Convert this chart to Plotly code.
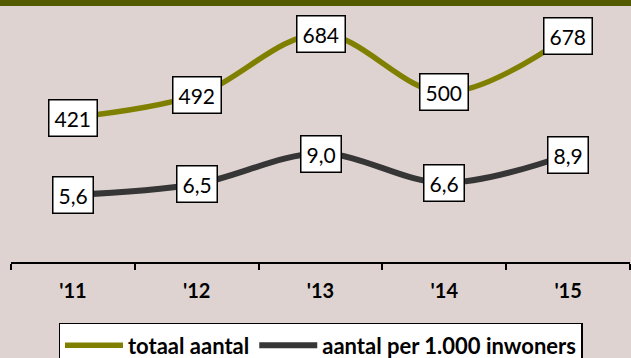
import plotly.graph_objects as go

years = ["'11", "'12", "'13", "'14", "'15"]
totaal = [421, 492, 684, 500, 678]
per_1000 = [5.6, 6.5, 9.0, 6.6, 8.9]
series_names = ["totaal aantal", "aantal per 1.000 inwoners"]

GREEN = "#808000"
DARK = "#363636"
BG = "#dfd3d2"
FONT = "Lato"

fig = go.Figure()
fig.add_trace(go.Scatter(x=years, y=totaal, name=series_names[0], mode="lines",
                         line=dict(color=GREEN, width=5.5, shape="spline", smoothing=1),
                         yaxis="y", hoverinfo="skip"))
fig.add_trace(go.Scatter(x=years, y=per_1000, name=series_names[1], mode="lines",
                         line=dict(color=DARK, width=6, shape="spline", smoothing=1),
                         yaxis="y2", hoverinfo="skip"))

annotations = []
for x, v in zip(years, totaal):
    annotations.append(dict(x=x, y=v, xref="x", yref="y", text=str(v), showarrow=False,
                            font=dict(family=FONT, size=21, color="black"),
                            bgcolor="white", bordercolor="black", borderwidth=1.5, borderpad=5))
for x, v in zip(years, per_1000):
    annotations.append(dict(x=x, y=v, xref="x", yref="y2", text=f"{v:.1f}".replace(".", ","),
                            showarrow=False,
                            font=dict(family=FONT, size=21, color="black"),
                            bgcolor="white", bordercolor="black", borderwidth=1.5, borderpad=5))

fig.update_layout(
    width=631, height=358,
    margin=dict(l=11, r=1, t=6, b=96, autoexpand=False),
    paper_bgcolor=BG, plot_bgcolor=BG,
    font=dict(family=FONT, color="black"),
    showlegend=True,
    legend=dict(orientation="h", x=0.5, xanchor="center", y=-0.238, yanchor="top",
                bgcolor="white", bordercolor="black", borderwidth=1.5,
                font=dict(family=FONT, size=22, color="black", weight="bold"),
                itemwidth=58, tracegroupgap=0),
    xaxis=dict(type="category", range=[-0.5, 4.5], showgrid=False, zeroline=False,
               showline=True, linecolor="black", linewidth=2,
               ticks="outside", ticklen=6, tickwidth=2, tickcolor="black",
               tickson="boundaries", ticklabelstandoff=10,
               tickfont=dict(family=FONT, size=20, color="black", weight="bold")),
    yaxis=dict(range=[-34.1, 772.2], visible=False, fixedrange=True),
    yaxis2=dict(range=[0.11, 21.09], visible=False, overlaying="y", fixedrange=True),
    annotations=annotations,
    shapes=[dict(type="rect", xref="paper", yref="paper", x0=-0.05, x1=1.05,
                 y0=1, y1=1 + 6 / 256, fillcolor="#535a00", line=dict(width=0), layer="above")],
)

fig.write_html("out.html", config={"displayModeBar": False},
               post_script="document.body.style.margin='0';document.body.style.overflow='hidden';")
